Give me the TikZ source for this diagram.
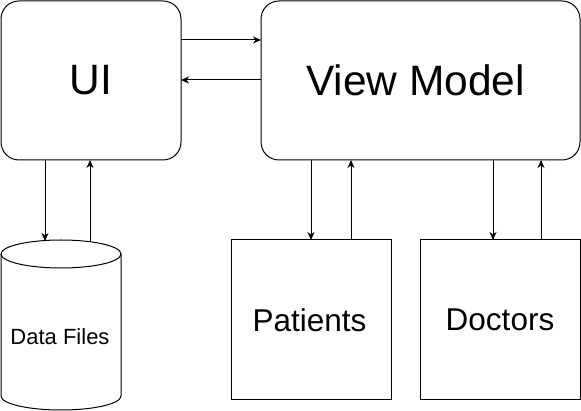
\documentclass[tikz,border=0pt]{standalone}
\usepackage{fontspec}
\setmainfont{Liberation Sans}
\usetikzlibrary{arrows.meta,calc}
\begin{document}
\begin{tikzpicture}[x=1pt,y=-1pt,line width=1pt,
  rbox/.style={draw,rounded corners=18pt,inner sep=0pt,outer sep=0pt,anchor=north west,minimum height=159pt},
  sbox/.style={draw,inner sep=0pt,outer sep=0pt,anchor=north west,minimum width=160pt,minimum height=160pt,font=\fontsize{31.5}{36}\selectfont},
  arr/.style={-{Stealth[length=8pt,width=7pt,inset=2.5pt]}}]
\useasboundingbox (0,0) rectangle (581,411);
\node[rbox,minimum width=180pt,font=\fontsize{42.5}{50}\selectfont] (ui) at (1,1) {UI};
\node[rbox,minimum width=319pt,font=\fontsize{42.5}{50}\selectfont] (vm) at (261,1) {\hspace*{-10pt}View Model};
\node[sbox] (pat) at (231,240) {\hspace*{-3pt}Patients};
\node[sbox] (doc) at (420,240) {Doctors};
% cylinder
\node[inner sep=0pt,outer sep=0pt,anchor=north west,minimum width=120pt,minimum height=170pt] (db) at (1,240) {};
\draw (db.north west) ++(0,14) -- ++(0,142) arc[start angle=180,end angle=0,x radius=60,y radius=14] -- ++(0,-142);
\draw ($(db.north)+(0,14)$) ellipse[x radius=60,y radius=14];
\node[font=\fontsize{22}{26}\selectfont] (dbt) at (60,337) {Data Files};
\coordinate (dbin) at ($(db.north west)+(44,1)$);
\coordinate (dbout) at ($(db.north west)+(89,2)$);
% UI <-> VM
\draw[arr] ($(ui.north east)+(0,39)$) -- ($(vm.north west)+(0,39)$);
\draw[arr] ($(vm.north west)+(0,79)$) -- ($(ui.north east)+(0,79)$);
% UI <-> DB
\draw[arr] (ui.south -| dbin) -- (dbin);
\draw[arr] (dbout) -- (ui.south -| dbout);
% VM <-> Patients
\draw[arr] ($(vm.south west)+(50,0)$) -- ($(pat.north west)+(80,0)$);
\draw[arr] ($(pat.north west)+(120,0)$) -- ($(vm.south west)+(90,0)$);
% VM <-> Doctors
\draw[arr] ($(vm.south west)+(232,0)$) -- ($(doc.north west)+(73,0)$);
\draw[arr] ($(doc.north west)+(121,0)$) -- ($(vm.south west)+(280,0)$);
\end{tikzpicture}
\end{document}
